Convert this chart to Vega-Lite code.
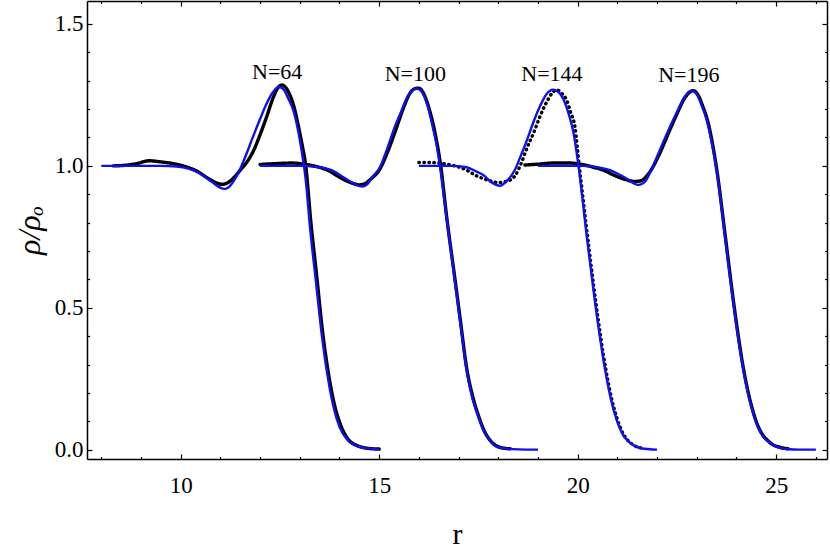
{
  "$schema": "https://vega.github.io/schema/vega-lite/v6.json",
  "width": 740,
  "height": 458,
  "autosize": {"type": "none"},
  "padding": {"left": 87, "top": 1, "right": 3, "bottom": 93},
  "background": "white",
  "config": {"view": {"stroke": null}},
  "datasets": {
    "sim": [
      {"N": "64", "r": 8.3, "v": 1.0}, {"N": "64", "r": 8.6, "v": 1.002}, {"N": "64", "r": 8.9, "v": 1.008}, {"N": "64", "r": 9.2, "v": 1.018}, {"N": "64", "r": 9.5, "v": 1.014}, {"N": "64", "r": 9.8, "v": 1.008}, {"N": "64", "r": 10.1, "v": 0.998}, {"N": "64", "r": 10.4, "v": 0.982}, {"N": "64", "r": 10.7, "v": 0.955}, {"N": "64", "r": 10.9, "v": 0.94}, {"N": "64", "r": 11.05, "v": 0.935}, {"N": "64", "r": 11.2, "v": 0.942}, {"N": "64", "r": 11.35, "v": 0.96}, {"N": "64", "r": 11.5, "v": 0.985}, {"N": "64", "r": 11.65, "v": 1.01}, {"N": "64", "r": 11.84, "v": 1.055}, {"N": "64", "r": 12.0, "v": 1.11}, {"N": "64", "r": 12.17, "v": 1.175}, {"N": "64", "r": 12.34, "v": 1.244}, {"N": "64", "r": 12.45, "v": 1.275}, {"N": "64", "r": 12.55, "v": 1.285}, {"N": "64", "r": 12.65, "v": 1.275}, {"N": "64", "r": 12.75, "v": 1.25}, {"N": "64", "r": 12.85, "v": 1.21}, {"N": "64", "r": 12.95, "v": 1.15}, {"N": "64", "r": 13.05, "v": 1.08}, {"N": "64", "r": 13.15, "v": 1.0}, {"N": "64", "r": 13.28, "v": 0.8}, {"N": "64", "r": 13.42, "v": 0.62}, {"N": "64", "r": 13.57, "v": 0.42}, {"N": "64", "r": 13.72, "v": 0.27}, {"N": "64", "r": 13.87, "v": 0.16}, {"N": "64", "r": 14.02, "v": 0.09}, {"N": "64", "r": 14.2, "v": 0.04}, {"N": "64", "r": 14.45, "v": 0.014}, {"N": "64", "r": 14.75, "v": 0.004}, {"N": "64", "r": 15.0, "v": 0.002},
      {"N": "100", "r": 12.0, "v": 1.005}, {"N": "100", "r": 12.4, "v": 1.008}, {"N": "100", "r": 12.8, "v": 1.01}, {"N": "100", "r": 13.1, "v": 1.006}, {"N": "100", "r": 13.4, "v": 0.998}, {"N": "100", "r": 13.7, "v": 0.985}, {"N": "100", "r": 14.0, "v": 0.96}, {"N": "100", "r": 14.3, "v": 0.94}, {"N": "100", "r": 14.5, "v": 0.933}, {"N": "100", "r": 14.65, "v": 0.938}, {"N": "100", "r": 14.8, "v": 0.955}, {"N": "100", "r": 15.0, "v": 0.985}, {"N": "100", "r": 15.2, "v": 1.045}, {"N": "100", "r": 15.4, "v": 1.12}, {"N": "100", "r": 15.6, "v": 1.2}, {"N": "100", "r": 15.75, "v": 1.25}, {"N": "100", "r": 15.9, "v": 1.272}, {"N": "100", "r": 16.0, "v": 1.274}, {"N": "100", "r": 16.1, "v": 1.26}, {"N": "100", "r": 16.25, "v": 1.205}, {"N": "100", "r": 16.4, "v": 1.12}, {"N": "100", "r": 16.55, "v": 1.0}, {"N": "100", "r": 16.7, "v": 0.82}, {"N": "100", "r": 16.9, "v": 0.61}, {"N": "100", "r": 17.05, "v": 0.45}, {"N": "100", "r": 17.2, "v": 0.29}, {"N": "100", "r": 17.35, "v": 0.19}, {"N": "100", "r": 17.5, "v": 0.12}, {"N": "100", "r": 17.65, "v": 0.065}, {"N": "100", "r": 17.8, "v": 0.032}, {"N": "100", "r": 18.0, "v": 0.01}, {"N": "100", "r": 18.2, "v": 0.004}, {"N": "100", "r": 18.3, "v": 0.003},
      {"N": "144", "r": 16.0, "v": 1.012}, {"N": "144", "r": 16.3, "v": 1.012}, {"N": "144", "r": 16.6, "v": 1.008}, {"N": "144", "r": 16.9, "v": 1.0}, {"N": "144", "r": 17.2, "v": 0.985}, {"N": "144", "r": 17.45, "v": 0.965}, {"N": "144", "r": 17.62, "v": 0.955}, {"N": "144", "r": 17.85, "v": 0.945}, {"N": "144", "r": 18.0, "v": 0.941}, {"N": "144", "r": 18.2, "v": 0.945}, {"N": "144", "r": 18.42, "v": 0.965}, {"N": "144", "r": 18.58, "v": 1.01}, {"N": "144", "r": 18.72, "v": 1.062}, {"N": "144", "r": 18.9, "v": 1.12}, {"N": "144", "r": 19.05, "v": 1.174}, {"N": "144", "r": 19.2, "v": 1.22}, {"N": "144", "r": 19.35, "v": 1.255}, {"N": "144", "r": 19.47, "v": 1.268}, {"N": "144", "r": 19.6, "v": 1.255}, {"N": "144", "r": 19.72, "v": 1.232}, {"N": "144", "r": 19.82, "v": 1.19}, {"N": "144", "r": 19.93, "v": 1.138}, {"N": "144", "r": 20.04, "v": 1.0}, {"N": "144", "r": 20.25, "v": 0.751}, {"N": "144", "r": 20.46, "v": 0.516}, {"N": "144", "r": 20.71, "v": 0.282}, {"N": "144", "r": 20.87, "v": 0.17}, {"N": "144", "r": 21.0, "v": 0.106}, {"N": "144", "r": 21.17, "v": 0.05}, {"N": "144", "r": 21.35, "v": 0.022}, {"N": "144", "r": 21.65, "v": 0.004},
      {"N": "196", "r": 18.67, "v": 1.003}, {"N": "196", "r": 19.0, "v": 1.006}, {"N": "196", "r": 19.4, "v": 1.01}, {"N": "196", "r": 19.8, "v": 1.01}, {"N": "196", "r": 20.1, "v": 1.005}, {"N": "196", "r": 20.4, "v": 0.995}, {"N": "196", "r": 20.65, "v": 0.985}, {"N": "196", "r": 20.9, "v": 0.968}, {"N": "196", "r": 21.2, "v": 0.952}, {"N": "196", "r": 21.44, "v": 0.945}, {"N": "196", "r": 21.6, "v": 0.948}, {"N": "196", "r": 21.8, "v": 0.975}, {"N": "196", "r": 22.07, "v": 1.045}, {"N": "196", "r": 22.3, "v": 1.12}, {"N": "196", "r": 22.49, "v": 1.18}, {"N": "196", "r": 22.7, "v": 1.24}, {"N": "196", "r": 22.91, "v": 1.265}, {"N": "196", "r": 23.05, "v": 1.245}, {"N": "196", "r": 23.15, "v": 1.21}, {"N": "196", "r": 23.27, "v": 1.16}, {"N": "196", "r": 23.5, "v": 0.99}, {"N": "196", "r": 23.72, "v": 0.75}, {"N": "196", "r": 23.93, "v": 0.516}, {"N": "196", "r": 24.18, "v": 0.282}, {"N": "196", "r": 24.48, "v": 0.106}, {"N": "196", "r": 24.85, "v": 0.024}, {"N": "196", "r": 25.1, "v": 0.008}, {"N": "196", "r": 25.3, "v": 0.003}
    ],
    "theory": [
      {"N": "64", "r": 8.0, "v": 1.0}, {"N": "64", "r": 9.5, "v": 1.0}, {"N": "64", "r": 9.9, "v": 0.998}, {"N": "64", "r": 10.2, "v": 0.99}, {"N": "64", "r": 10.5, "v": 0.972}, {"N": "64", "r": 10.8, "v": 0.942}, {"N": "64", "r": 11.0, "v": 0.923}, {"N": "64", "r": 11.1, "v": 0.919}, {"N": "64", "r": 11.2, "v": 0.924}, {"N": "64", "r": 11.35, "v": 0.95}, {"N": "64", "r": 11.5, "v": 0.99}, {"N": "64", "r": 11.65, "v": 1.04}, {"N": "64", "r": 11.8, "v": 1.095}, {"N": "64", "r": 12.0, "v": 1.165}, {"N": "64", "r": 12.15, "v": 1.215}, {"N": "64", "r": 12.3, "v": 1.255}, {"N": "64", "r": 12.47, "v": 1.279}, {"N": "64", "r": 12.6, "v": 1.268}, {"N": "64", "r": 12.7, "v": 1.24}, {"N": "64", "r": 12.85, "v": 1.19}, {"N": "64", "r": 12.95, "v": 1.13}, {"N": "64", "r": 13.05, "v": 1.05}, {"N": "64", "r": 13.15, "v": 0.95}, {"N": "64", "r": 13.26, "v": 0.78}, {"N": "64", "r": 13.4, "v": 0.6}, {"N": "64", "r": 13.55, "v": 0.41}, {"N": "64", "r": 13.7, "v": 0.26}, {"N": "64", "r": 13.85, "v": 0.15}, {"N": "64", "r": 14.0, "v": 0.08}, {"N": "64", "r": 14.2, "v": 0.035}, {"N": "64", "r": 14.5, "v": 0.01}, {"N": "64", "r": 15.0, "v": 0.001},
      {"N": "100", "r": 12.0, "v": 1.0}, {"N": "100", "r": 13.0, "v": 1.0}, {"N": "100", "r": 13.4, "v": 0.997}, {"N": "100", "r": 13.8, "v": 0.985}, {"N": "100", "r": 14.1, "v": 0.96}, {"N": "100", "r": 14.4, "v": 0.935}, {"N": "100", "r": 14.56, "v": 0.927}, {"N": "100", "r": 14.7, "v": 0.935}, {"N": "100", "r": 14.85, "v": 0.965}, {"N": "100", "r": 15.0, "v": 0.99}, {"N": "100", "r": 15.2, "v": 1.06}, {"N": "100", "r": 15.4, "v": 1.14}, {"N": "100", "r": 15.55, "v": 1.19}, {"N": "100", "r": 15.7, "v": 1.24}, {"N": "100", "r": 15.85, "v": 1.267}, {"N": "100", "r": 15.93, "v": 1.273}, {"N": "100", "r": 16.05, "v": 1.265}, {"N": "100", "r": 16.2, "v": 1.22}, {"N": "100", "r": 16.36, "v": 1.13}, {"N": "100", "r": 16.45, "v": 1.07}, {"N": "100", "r": 16.53, "v": 1.0}, {"N": "100", "r": 16.65, "v": 0.87}, {"N": "100", "r": 16.87, "v": 0.634}, {"N": "100", "r": 17.05, "v": 0.44}, {"N": "100", "r": 17.2, "v": 0.282}, {"N": "100", "r": 17.35, "v": 0.18}, {"N": "100", "r": 17.5, "v": 0.115}, {"N": "100", "r": 17.62, "v": 0.07}, {"N": "100", "r": 17.8, "v": 0.03}, {"N": "100", "r": 18.0, "v": 0.008}, {"N": "100", "r": 18.5, "v": 0.001}, {"N": "100", "r": 19.0, "v": 0.0},
      {"N": "144", "r": 16.0, "v": 1.0}, {"N": "144", "r": 16.8, "v": 1.0}, {"N": "144", "r": 17.2, "v": 0.995}, {"N": "144", "r": 17.45, "v": 0.98}, {"N": "144", "r": 17.62, "v": 0.968}, {"N": "144", "r": 17.85, "v": 0.94}, {"N": "144", "r": 18.04, "v": 0.93}, {"N": "144", "r": 18.2, "v": 0.945}, {"N": "144", "r": 18.42, "v": 0.986}, {"N": "144", "r": 18.55, "v": 1.03}, {"N": "144", "r": 18.72, "v": 1.09}, {"N": "144", "r": 18.9, "v": 1.16}, {"N": "144", "r": 19.05, "v": 1.21}, {"N": "144", "r": 19.2, "v": 1.25}, {"N": "144", "r": 19.38, "v": 1.268}, {"N": "144", "r": 19.5, "v": 1.262}, {"N": "144", "r": 19.64, "v": 1.235}, {"N": "144", "r": 19.78, "v": 1.18}, {"N": "144", "r": 19.89, "v": 1.12}, {"N": "144", "r": 20.02, "v": 1.0}, {"N": "144", "r": 20.23, "v": 0.751}, {"N": "144", "r": 20.44, "v": 0.516}, {"N": "144", "r": 20.69, "v": 0.282}, {"N": "144", "r": 20.85, "v": 0.17}, {"N": "144", "r": 20.98, "v": 0.106}, {"N": "144", "r": 21.15, "v": 0.05}, {"N": "144", "r": 21.32, "v": 0.024}, {"N": "144", "r": 21.6, "v": 0.005}, {"N": "144", "r": 22.0, "v": 0.0},
      {"N": "196", "r": 19.0, "v": 1.0}, {"N": "196", "r": 20.1, "v": 1.0}, {"N": "196", "r": 20.5, "v": 0.995}, {"N": "196", "r": 20.9, "v": 0.98}, {"N": "196", "r": 21.2, "v": 0.958}, {"N": "196", "r": 21.53, "v": 0.933}, {"N": "196", "r": 21.7, "v": 0.945}, {"N": "196", "r": 21.85, "v": 0.985}, {"N": "196", "r": 22.07, "v": 1.056}, {"N": "196", "r": 22.3, "v": 1.13}, {"N": "196", "r": 22.49, "v": 1.186}, {"N": "196", "r": 22.7, "v": 1.245}, {"N": "196", "r": 22.87, "v": 1.265}, {"N": "196", "r": 23.0, "v": 1.252}, {"N": "196", "r": 23.12, "v": 1.215}, {"N": "196", "r": 23.25, "v": 1.162}, {"N": "196", "r": 23.38, "v": 1.08}, {"N": "196", "r": 23.5, "v": 0.986}, {"N": "196", "r": 23.71, "v": 0.751}, {"N": "196", "r": 23.92, "v": 0.516}, {"N": "196", "r": 24.17, "v": 0.282}, {"N": "196", "r": 24.32, "v": 0.18}, {"N": "196", "r": 24.47, "v": 0.106}, {"N": "196", "r": 24.65, "v": 0.05}, {"N": "196", "r": 24.84, "v": 0.024}, {"N": "196", "r": 25.05, "v": 0.008}, {"N": "196", "r": 25.26, "v": 0.002}, {"N": "196", "r": 25.6, "v": 0.0}, {"N": "196", "r": 26.0, "v": 0.0}
    ],
    "labels": [
      {"label": "N=64", "r": 12.43, "v": 1.305},
      {"label": "N=100", "r": 15.91, "v": 1.30},
      {"label": "N=144", "r": 19.35, "v": 1.30},
      {"label": "N=196", "r": 22.8, "v": 1.297}
    ]
  },
  "resolve": {"axis": {"x": "independent", "y": "independent"}},
  "layer": [
    {
      "data": {"name": "sim"},
      "mark": {"type": "line", "color": "black", "strokeWidth": 3.4, "strokeCap": "round", "interpolate": "monotone"},
      "encoding": {
        "x": {
          "field": "r", "type": "quantitative",
          "scale": {"domain": [7.64, 26.28], "nice": false, "zero": false},
          "axis": {
            "orient": "bottom",
            "values": [8, 9, 10, 11, 12, 13, 14, 15, 16, 17, 18, 19, 20, 21, 22, 23, 24, 25, 26],
            "labelExpr": "datum.value % 5 === 0 ? datum.label : ''",
            "tickSize": {"condition": {"test": "datum.value % 5 === 0", "value": -5}, "value": -2.5},
            "tickColor": "black", "tickWidth": 1.2,
            "domainColor": "black", "domainWidth": 1.5,
            "grid": false,
            "labelFont": "Liberation Serif", "labelFontSize": 23, "labelColor": "black",
            "labelPadding": 20, "labelOverlap": false,
            "title": "r", "titleFont": "Liberation Serif", "titleFontSize": 30, "titleFontWeight": "normal", "titleColor": "black",
            "titlePadding": 20
          }
        },
        "y": {
          "field": "v", "type": "quantitative",
          "scale": {"domain": [-0.033, 1.581], "nice": false, "zero": false},
          "axis": {
            "orient": "left",
            "values": [0, 0.1, 0.2, 0.3, 0.4, 0.5, 0.6, 0.7, 0.8, 0.9, 1.0, 1.1, 1.2, 1.3, 1.4, 1.5],
            "labelExpr": "abs(datum.value * 2 - round(datum.value * 2)) < 0.000001 ? format(datum.value, '.1f') : ''",
            "tickSize": {"condition": {"test": "abs(datum.value * 2 - round(datum.value * 2)) < 0.000001", "value": -5}, "value": -2.5},
            "tickColor": "black", "tickWidth": 1.2,
            "domainColor": "black", "domainWidth": 1.5,
            "grid": false,
            "labelFont": "Liberation Serif", "labelFontSize": 23, "labelColor": "black",
            "labelPadding": 9, "labelOverlap": false,
            "title": "ρ/ρₒ", "titleFont": "Liberation Serif", "titleFontStyle": "italic", "titleFontSize": 32, "titleFontWeight": "normal", "titleColor": "black",
            "titlePadding": 8
          }
        },
        "strokeDash": {
          "field": "N", "type": "nominal",
          "scale": {"domain": ["64", "100", "144", "196"], "range": [[1, 0], [1, 0], [0.5, 4.5], [1, 0]]},
          "legend": null
        },
        "detail": {"field": "N"}
      }
    },
    {
      "data": {"name": "theory"},
      "mark": {"type": "line", "color": "#1010ee", "strokeWidth": 2.4, "interpolate": "monotone"},
      "encoding": {
        "x": {
          "field": "r", "type": "quantitative",
          "scale": {"domain": [7.64, 26.28], "nice": false, "zero": false},
          "axis": {
            "orient": "top",
            "values": [8, 9, 10, 11, 12, 13, 14, 15, 16, 17, 18, 19, 20, 21, 22, 23, 24, 25, 26],
            "labels": false,
            "tickSize": {"condition": {"test": "datum.value % 5 === 0", "value": -5}, "value": -2.5},
            "tickColor": "black", "tickWidth": 1.2,
            "domainColor": "black", "domainWidth": 1.5,
            "grid": false, "title": null
          }
        },
        "y": {
          "field": "v", "type": "quantitative",
          "scale": {"domain": [-0.033, 1.581], "nice": false, "zero": false},
          "axis": {
            "orient": "right",
            "values": [0, 0.1, 0.2, 0.3, 0.4, 0.5, 0.6, 0.7, 0.8, 0.9, 1.0, 1.1, 1.2, 1.3, 1.4, 1.5],
            "labels": false,
            "tickSize": {"condition": {"test": "abs(datum.value * 2 - round(datum.value * 2)) < 0.000001", "value": -5}, "value": -2.5},
            "tickColor": "black", "tickWidth": 1.2,
            "domainColor": "black", "domainWidth": 1.5,
            "grid": false, "title": null
          }
        },
        "detail": {"field": "N"}
      }
    },
    {
      "data": {"name": "labels"},
      "mark": {"type": "text", "font": "Liberation Serif", "fontSize": 22, "color": "black", "align": "center", "baseline": "alphabetic"},
      "encoding": {
        "x": {"field": "r", "type": "quantitative", "scale": {"domain": [7.64, 26.28], "nice": false, "zero": false}, "axis": null},
        "y": {"field": "v", "type": "quantitative", "scale": {"domain": [-0.033, 1.581], "nice": false, "zero": false}, "axis": null},
        "text": {"field": "label"}
      }
    }
  ]
}
